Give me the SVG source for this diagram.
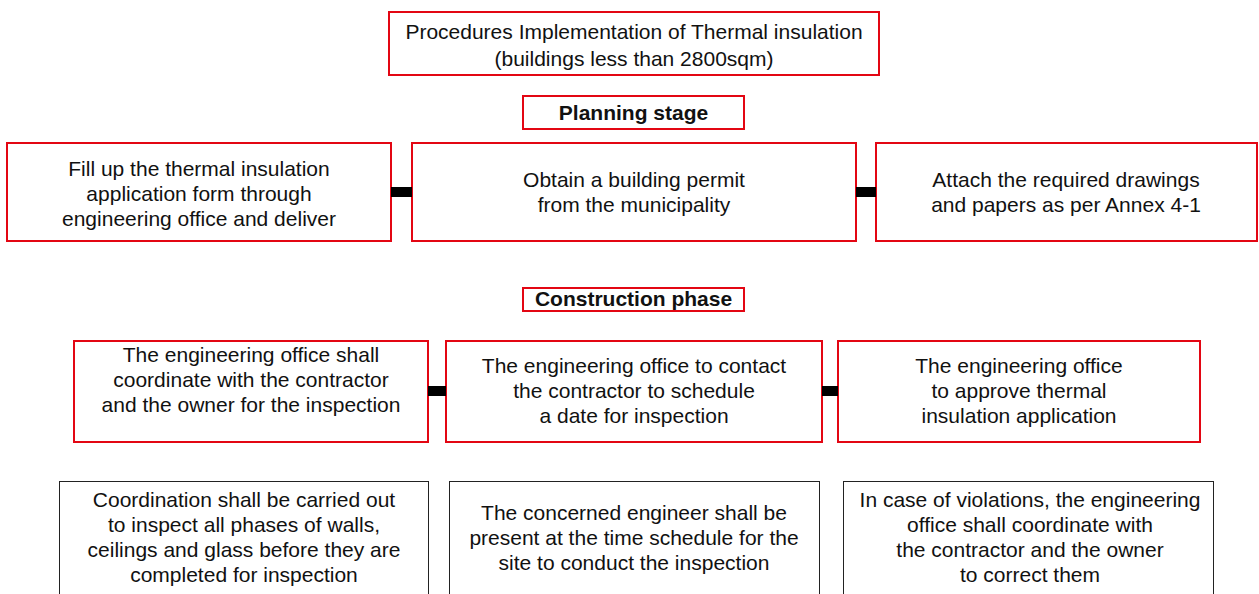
<svg xmlns="http://www.w3.org/2000/svg" width="1259" height="594" viewBox="0 0 1259 594">
<style>
.red{fill:#fff;stroke:#e30613;stroke-width:2}
.blk{fill:#fff;stroke:#222;stroke-width:1}
.t{font-family:"Liberation Sans",Arial,sans-serif;font-size:21px;fill:#111;text-anchor:middle}
.b{font-family:"Liberation Sans",Arial,sans-serif;font-size:21px;font-weight:bold;fill:#111;text-anchor:middle}
.bar{fill:#000}
</style>
<rect width="1259" height="594" fill="#fff"/>
<g id="title">
<rect class="red" x="389" y="12" width="490" height="63"/>
<text class="t" x="634" y="39">Procedures Implementation of Thermal insulation</text>
<text class="t" x="634" y="66">(buildings less than 2800sqm)</text>
</g>
<g id="planning">
<rect class="red" x="523" y="96" width="221" height="33"/>
<text class="b" x="633.5" y="120">Planning stage</text>
</g>
<g id="p1">
<rect class="red" x="7" y="143" width="384" height="98"/>
<text class="t" x="199" y="176">Fill up the thermal insulation</text>
<text class="t" x="199" y="201">application form through</text>
<text class="t" x="199" y="226">engineering office and deliver</text>
</g>
<g id="p2">
<rect class="red" x="412" y="143" width="444" height="98"/>
<text class="t" x="634" y="187">Obtain a building permit</text>
<text class="t" x="634" y="212">from the municipality</text>
</g>
<g id="p3">
<rect class="red" x="876" y="143" width="381" height="98"/>
<text class="t" x="1066" y="187">Attach the required drawings</text>
<text class="t" x="1066" y="212">and papers as per Annex 4-1</text>
</g>
<g id="construction">
<rect class="red" x="523" y="288" width="221" height="23"/>
<text class="b" x="633.5" y="306">Construction phase</text>
</g>
<g id="c1">
<rect class="red" x="74" y="341" width="354" height="101"/>
<text class="t" x="251" y="362">The engineering office shall</text>
<text class="t" x="251" y="387">coordinate with the contractor</text>
<text class="t" x="251" y="412">and the owner for the inspection</text>
</g>
<g id="c2">
<rect class="red" x="446" y="341" width="376" height="101"/>
<text class="t" x="634" y="373">The engineering office to contact</text>
<text class="t" x="634" y="398">the contractor to schedule</text>
<text class="t" x="634" y="423">a date for inspection</text>
</g>
<g id="c3">
<rect class="red" x="838" y="341" width="362" height="101"/>
<text class="t" x="1019" y="373">The engineering office</text>
<text class="t" x="1019" y="398">to approve thermal</text>
<text class="t" x="1019" y="423">insulation application</text>
</g>
<g id="d1">
<rect class="blk" x="59.5" y="481.5" width="369" height="130"/>
<text class="t" x="244" y="507">Coordination shall be carried out</text>
<text class="t" x="244" y="532">to inspect all phases of walls,</text>
<text class="t" x="244" y="557">ceilings and glass before they are</text>
<text class="t" x="244" y="582">completed for inspection</text>
</g>
<g id="d2">
<rect class="blk" x="449.5" y="481.5" width="370" height="130"/>
<text class="t" x="634" y="520">The concerned engineer shall be</text>
<text class="t" x="634" y="545">present at the time schedule for the</text>
<text class="t" x="634" y="570">site to conduct the inspection</text>
</g>
<g id="d3">
<rect class="blk" x="843.5" y="481.5" width="370" height="130"/>
<text class="t" x="1030" y="507">In case of violations, the engineering</text>
<text class="t" x="1030" y="532">office shall coordinate with</text>
<text class="t" x="1030" y="557">the contractor and the owner</text>
<text class="t" x="1030" y="582">to correct them</text>
</g>
<g id="connectors">
<rect class="bar" x="391" y="187" width="21" height="10"/>
<rect class="bar" x="856" y="187" width="20" height="10"/>
<rect class="bar" x="428" y="386" width="18" height="10"/>
<rect class="bar" x="822" y="386" width="16" height="10"/>
</g>
</svg>
